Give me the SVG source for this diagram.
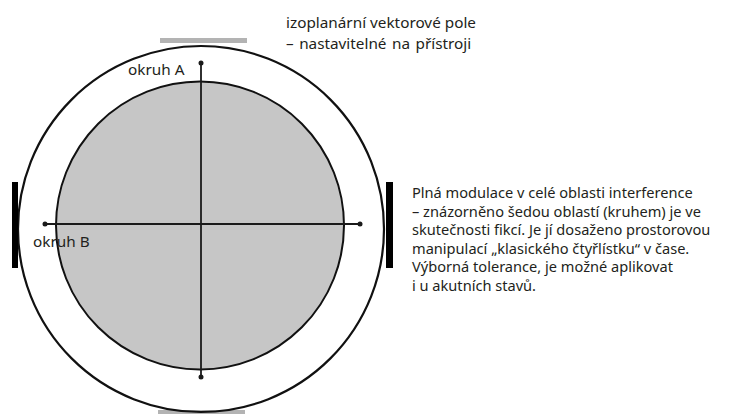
<svg xmlns="http://www.w3.org/2000/svg" width="733" height="414" viewBox="0 0 733 414">
<style>
text{font-family:"Noto Sans","Open Sans",sans-serif;fill:#231f20;font-size:14.6px}
.big{font-size:15.3px}
.ax{stroke:#1a1a1a;stroke-width:1.8;fill:none}
.dot{fill:#1a1a1a}
</style>
<rect width="733" height="414" fill="#fff"/>
<g id="field-bars">
<rect x="160" y="38" width="87" height="5" fill="#b3b3b3"/>
<rect x="158" y="410" width="87" height="5" fill="#b3b3b3"/>
</g>
<g id="outer-circle">
<circle cx="201" cy="229" r="183" fill="none" stroke="#111" stroke-width="2.2"/>
</g>
<g id="inner-circle">
<circle cx="200" cy="225.5" r="144" fill="#c6c6c6" stroke="#111" stroke-width="2"/>
</g>
<g id="side-bars">
<rect x="12" y="182" width="6" height="86" fill="#000"/>
<rect x="386" y="182" width="7" height="86" fill="#000"/>
</g>
<g id="connectors">
<line class="ax" x1="201" y1="63" x2="201" y2="377"/>
<line class="ax" x1="45" y1="224" x2="360" y2="224"/>
<circle class="dot" cx="201" cy="63" r="2.5"/>
<circle class="dot" cx="201" cy="377" r="2.5"/>
<circle class="dot" cx="45" cy="224" r="2.5"/>
<circle class="dot" cx="360" cy="224" r="2.5"/>
</g>
<g id="label-a"><text class="big" x="128" y="75">okruh A</text></g>
<g id="label-b"><text class="big" x="33" y="247">okruh B</text></g>
<g id="label-field">
<text class="big" x="286" y="28">izoplanární vektorové pole</text>
<text class="big" x="286" y="49" word-spacing="1.5">– nastavitelné na přístroji</text>
</g>
<g id="label-desc">
<text x="412" y="198">Plná modulace v celé oblasti interference</text>
<text x="412" y="216.5">– znázorněno šedou oblastí (kruhem) je ve</text>
<text x="412" y="235">skutečnosti fikcí. Je jí dosaženo prostorovou</text>
<text x="412" y="253.5">manipulací „klasického čtyřlístku“ v čase.</text>
<text x="412" y="272">Výborná tolerance, je možné aplikovat</text>
<text x="412" y="290.5">i u akutních stavů.</text>
</g>
</svg>
